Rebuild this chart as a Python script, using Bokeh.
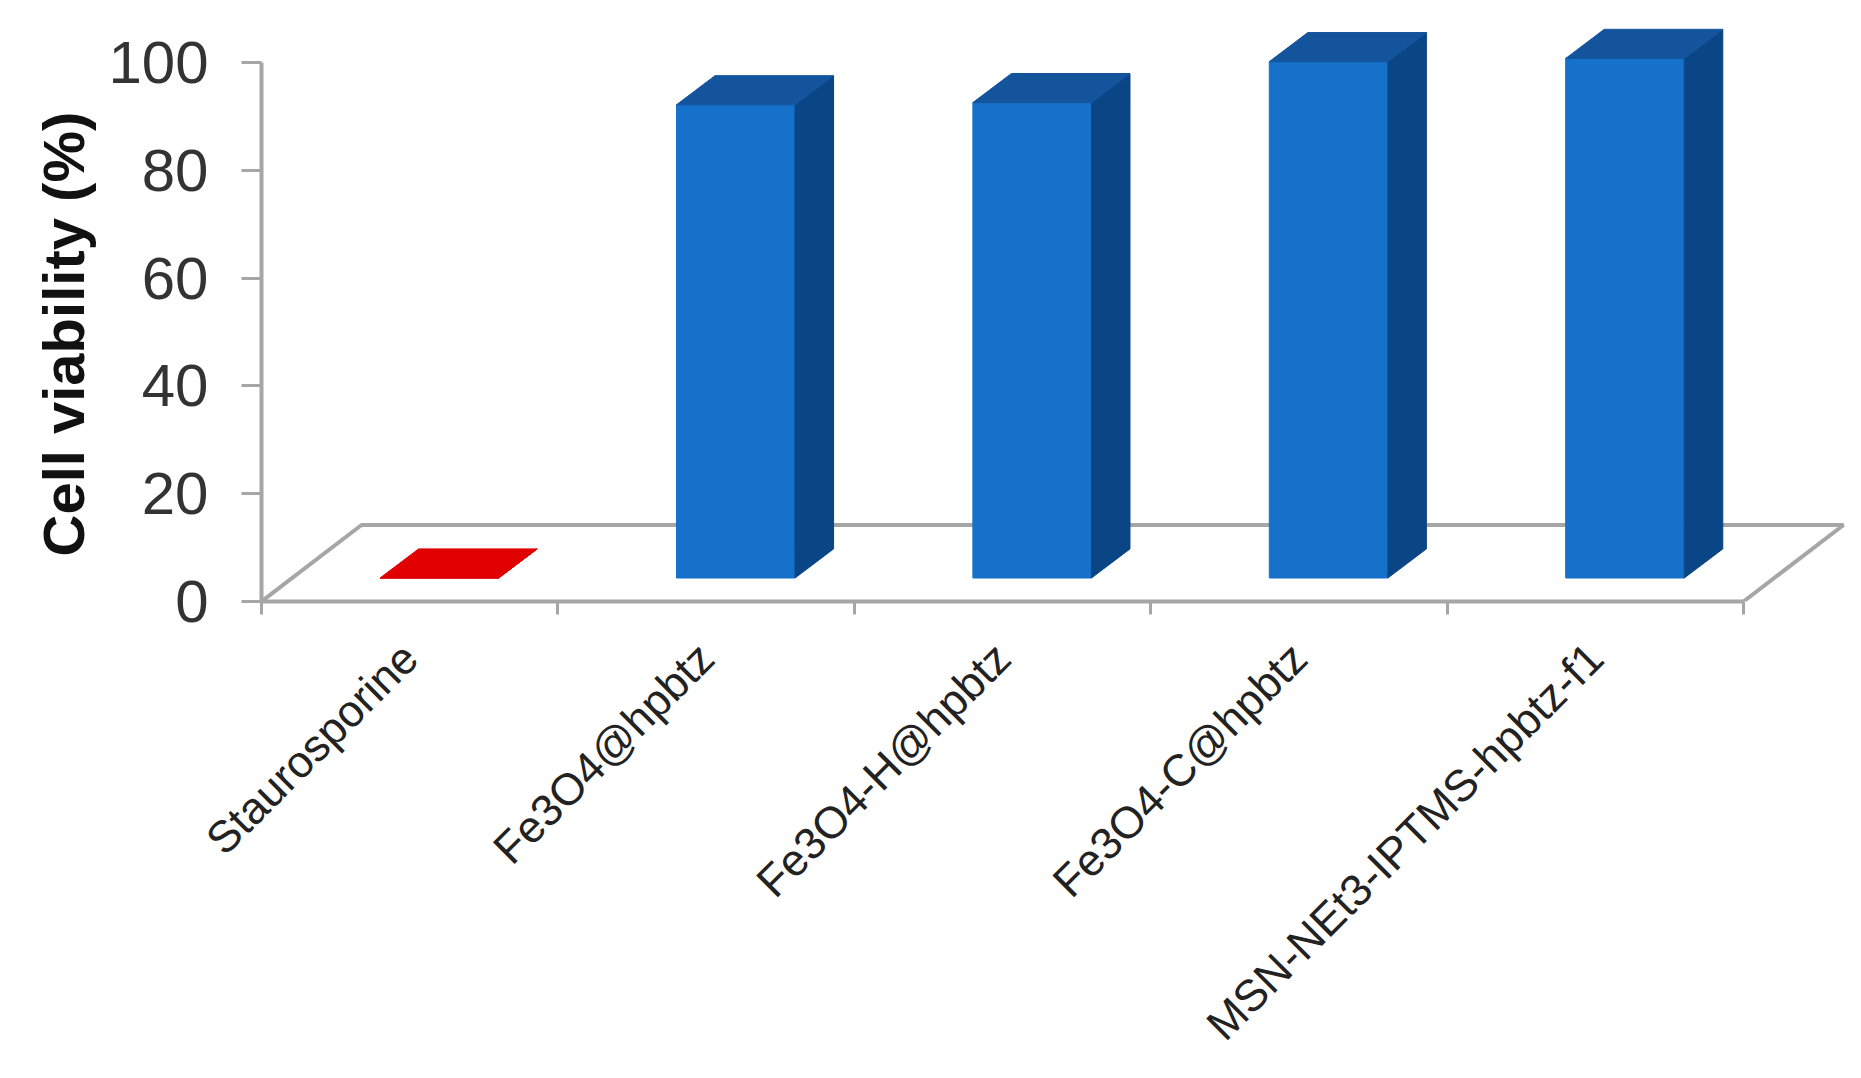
from bokeh.embed import file_html
from bokeh.models import FixedTicker, Range1d, Title
from bokeh.plotting import figure
from bokeh.resources import INLINE

categories = ["Staurosporine", "Fe3O4@hpbtz", "Fe3O4-H@hpbtz", "Fe3O4-C@hpbtz", "MSN-NEt3-IPTMS-hpbtz-f1"]
values = [0.0, 87.8, 88.2, 95.8, 96.4]
bar_colors = ["#e00000", "#1671cb", "#1671cb", "#1671cb", "#1671cb"]
side_colors = ["#e00000", "#0a4585", "#0a4585", "#0a4585", "#0a4585"]
top_colors = ["#e00000", "#14549c", "#14549c", "#14549c", "#14549c"]
y_ticks = [0, 20, 40, 60, 80, 100]
y_title = "Cell viability (%)"

# chart geometry in data units
BAR_W = 0.40
BAR_INSET_X = 0.40
FLOOR_DX, FLOOR_DY = 0.3374, 14.2
BAR_BASE = 4.36
DEPTH_X, DEPTH_Y = 0.13, 5.4
GREY = "#a6a6a6"

p = figure(width=1853, height=1070, output_backend="svg", toolbar_location=None,
           x_range=Range1d(0, 5.371), y_range=Range1d(0, 109.65),
           min_border_left=261, min_border_right=0, min_border_top=10, min_border_bottom=469,
           outline_line_color=None, background_fill_color="white", border_fill_color="white")
p.grid.visible = False

# floor of the 3D box
n = len(categories)
p.line([0, FLOOR_DX, n + FLOOR_DX, n], [0, FLOOR_DY, FLOOR_DY, 0], line_color=GREY, line_width=4)

# bars: front, side and top faces derived from the values
for i, v in enumerate(values):
    x0 = i + BAR_INSET_X
    x1 = x0 + BAR_W
    y0 = BAR_BASE
    y1 = BAR_BASE + v
    p.patch([x0, x1, x1, x0], [y0, y0, y1, y1], fill_color=bar_colors[i], line_color=bar_colors[i], line_width=1)
    p.patch([x1, x1 + DEPTH_X, x1 + DEPTH_X, x1], [y0, y0 + DEPTH_Y, y1 + DEPTH_Y, y1],
            fill_color=side_colors[i], line_color=side_colors[i], line_width=1)
    p.patch([x0, x1, x1 + DEPTH_X, x0 + DEPTH_X], [y1, y1, y1 + DEPTH_Y, y1 + DEPTH_Y],
            fill_color=top_colors[i], line_color=top_colors[i], line_width=1)

# y axis
ya = p.yaxis[0]
ya.ticker = FixedTicker(ticks=y_ticks)
ya.bounds = (0, 100)
ya.axis_line_color = GREY
ya.axis_line_width = 4
ya.major_tick_line_color = GREY
ya.major_tick_line_width = 3
ya.major_tick_out = 20
ya.major_tick_in = 0
ya.minor_tick_line_color = None
ya.major_label_standoff = 33
ya.major_label_text_font = "Liberation Sans"
ya.major_label_text_font_size = "60px"
ya.major_label_text_color = "#333333"

# x axis: category labels at centres, tick marks on category boundaries
xa = p.xaxis[0]
centres = [i + 0.5 for i in range(n)]
xa.ticker = FixedTicker(ticks=centres, minor_ticks=list(range(n + 1)))
xa.major_label_overrides = {c: t for c, t in zip(centres, categories)}
xa.bounds = (0, n)
xa.axis_line_color = GREY
xa.axis_line_width = 4
xa.major_tick_line_color = None
xa.major_tick_out = 0
xa.major_tick_in = 0
xa.minor_tick_line_color = GREY
xa.minor_tick_line_width = 3
xa.minor_tick_out = 13
xa.minor_tick_in = 0
xa.major_label_orientation = 0.7854
xa.major_label_standoff = 36
xa.major_label_text_font = "Liberation Sans"
xa.major_label_text_font_size = "44.5px"
xa.major_label_text_color = "#222222"

p.add_layout(Title(text=y_title, align="left", offset=45, standoff=19,
                   text_font="Liberation Sans", text_font_style="bold", text_font_size="58px",
                   text_color="#111111"), "left")

open("out.html", "w").write(file_html(p, INLINE))
